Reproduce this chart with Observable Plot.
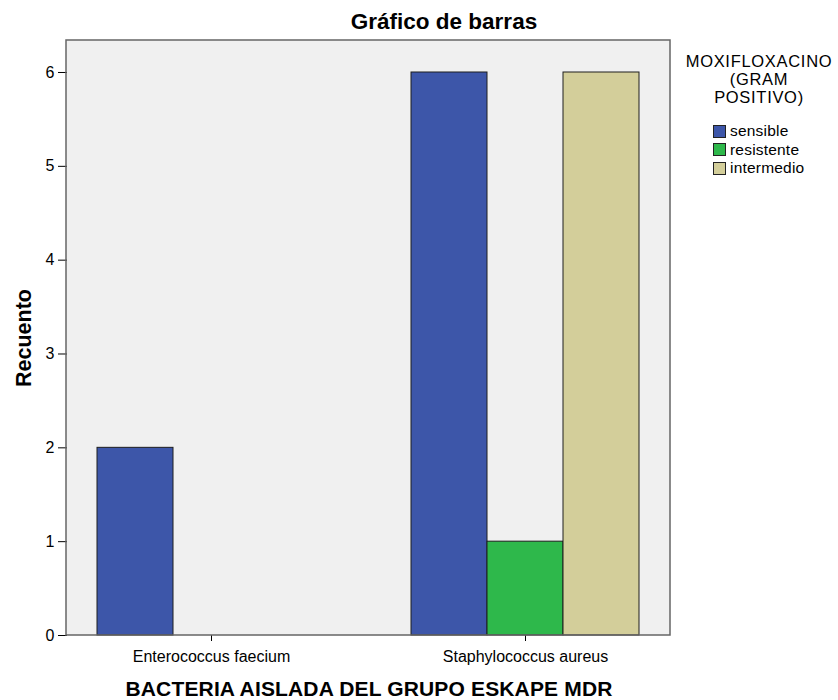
<!DOCTYPE html>
<html>
<head>
<meta charset="utf-8">
<script src="https://cdn.jsdelivr.net/npm/d3@7"></script>
<script src="https://cdn.jsdelivr.net/npm/@observablehq/plot@0.6"></script>
<style>
  body { margin: 0; background: #fff; font-family: "Liberation Sans", Arial, sans-serif; }
  #wrap { position: relative; width: 838px; height: 700px; overflow: hidden; }
  #title { height: 38px; line-height: 43px; text-align: center; padding-left: 50px; box-sizing: border-box; font-weight: bold; font-size: 22.5px; color: #000; white-space: nowrap; }
  #xlabel { height: 28px; line-height: 34px; text-align: center; width: 838px; padding-right: 100px; box-sizing: border-box; font-weight: bold; font-size: 21px; letter-spacing: 0.15px; color: #000; white-space: nowrap; }
  #ylabel { position: absolute; left: 24px; top: 338px; transform: translate(-50%, -50%) rotate(-90deg); font-weight: bold; font-size: 21.5px; white-space: nowrap; }
  #legend { position: absolute; left: 676px; top: 52px; width: 166px; font-size: 16.5px; letter-spacing: 0.7px; color: #000; }
  #legend .head { text-align: center; line-height: 18px; }
  #legend .items { margin-top: 16px; margin-left: 37px; letter-spacing: 0.2px; }
  #legend .item { display: flex; align-items: center; height: 18.5px; font-size: 15.5px; }
  #legend .sw { width: 11px; height: 11px; border: 1px solid #222; margin-right: 4px; flex: none; }
  #chart svg text { font-family: "Liberation Sans", Arial, sans-serif; }
</style>
</head>
<body>
<div id="wrap">
  <div id="title">Gráfico de barras</div>
  <div id="chart"></div>
  <div id="xlabel">BACTERIA AISLADA DEL GRUPO ESKAPE MDR</div>
  <div id="ylabel">Recuento</div>
  <div id="legend"></div>
</div>
<script>
const bacteria = ["Enterococcus faecium", "Staphylococcus aureus"];
const categories = ["sensible", "resistente", "intermedio"];
const colors = ["#3d56a9", "#2eb84b", "#d3ce9a"];
const sensible = [2, 6];
const resistente = [0, 1];
const intermedio = [0, 6];
const yTicks = [0, 1, 2, 3, 4, 5, 6];
const legendTitle = ["MOXIFLOXACINO", "(GRAM", "POSITIVO)"];

const series = {sensible, resistente, intermedio};
const rows = [];
bacteria.forEach((b, i) => {
  categories.forEach(c => {
    const v = series[c][i];
    if (v > 0) rows.push({bacteria: b, category: c, value: v});
  });
});

const W = 838, H = 634;
const mL = 66, mR = 168, mT = 2, mB = 37;

const chart = Plot.plot({
  width: W,
  height: H,
  marginLeft: mL,
  marginRight: mR,
  marginTop: mT,
  marginBottom: mB,
  style: {background: "transparent", fontSize: "16px", color: "#000"},
  fx: {domain: bacteria, paddingInner: 0.0825, paddingOuter: 0, axis: "bottom", label: null, tickSize: 6, tickPadding: 9},
  x: {domain: categories, paddingInner: 0, paddingOuter: 0.377, axis: null},
  y: {domain: [0, 6.341], ticks: yTicks, tickFormat: d3.format("d"), tickSize: 9, tickPadding: 4, label: null},
  color: {domain: categories, range: colors},
  marks: [
    Plot.barY(rows, {fx: "bacteria", x: "category", y: "value", fill: "category", stroke: "#1e1e1e", strokeWidth: 1})
  ]
});

// plot-area background and border spanning the whole frame
const svg = d3.select(chart.tagName.toLowerCase() === "svg" ? chart : chart.querySelector("svg"));
svg.insert("rect", ":first-child")
  .attr("x", mL).attr("y", mT)
  .attr("width", W - mL - mR).attr("height", H - mT - mB)
  .attr("fill", "#f0f0f0");
svg.append("rect")
  .attr("x", mL).attr("y", mT)
  .attr("width", W - mL - mR).attr("height", H - mT - mB)
  .attr("fill", "none").attr("stroke", "#666").attr("stroke-width", 1.5);

document.getElementById("chart").appendChild(chart);

// legend
const lg = d3.select("#legend");
lg.append("div").attr("class", "head").html(legendTitle.join("<br>"));
const items = lg.append("div").attr("class", "items");
categories.forEach((c, i) => {
  const it = items.append("div").attr("class", "item");
  it.append("div").attr("class", "sw").style("background", colors[i]);
  it.append("span").text(c);
});
</script>
</body>
</html>
